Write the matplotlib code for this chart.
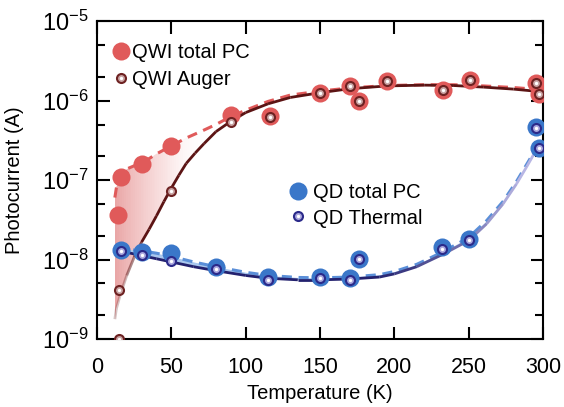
import numpy as np
import matplotlib
matplotlib.use('Agg')
import matplotlib.pyplot as plt
from matplotlib.collections import LineCollection
from matplotlib.colors import LinearSegmentedColormap, to_rgb
from matplotlib.path import Path
from matplotlib.ticker import FixedLocator, LogFormatterSciNotation, NullFormatter, NullLocator

plt.rcParams['font.family'] = ['Liberation Sans', 'DejaVu Sans']
plt.rcParams['axes.unicode_minus'] = False

# Measured points
qwi_total_T = [14, 16, 30, 50, 90, 116, 150, 170, 176, 195, 233, 251, 295, 297]
qwi_total = [3.6e-8, 1.1e-7, 1.6e-7, 2.7e-7, 6.6e-7, 6.4e-7, 1.24e-6, 1.55e-6,
             1.0e-6, 1.78e-6, 1.38e-6, 1.8e-6, 1.67e-6, 1.22e-6]
qwi_auger_T = [15, 15, 50, 90, 116, 150, 170, 176, 195, 233, 251, 295, 297]
qwi_auger = [1.0e-9, 4.2e-9, 7.3e-8, 5.4e-7, 6.3e-7, 1.24e-6, 1.55e-6, 1.0e-6,
             1.78e-6, 1.38e-6, 1.8e-6, 1.67e-6, 1.22e-6]

qd_T = [16, 30, 50, 80, 115, 150, 170, 176, 232, 250, 295, 297]
qd_total = [1.33e-8, 1.25e-8, 1.2e-8, 8.0e-9, 6.0e-9, 6.0e-9, 5.8e-9, 1.03e-8,
            1.42e-8, 1.82e-8, 4.6e-7, 2.5e-7]
qd_thermal = [1.3e-8, 1.15e-8, 9.5e-9, 7.5e-9, 5.6e-9, 5.8e-9, 5.6e-9, 1.03e-8,
              1.35e-8, 1.78e-8, 4.5e-7, 2.5e-7]

# Fit curves (log10 of current)
qwi_fit_T = [12, 13, 16, 20, 25, 30, 35, 40, 45, 50, 55, 60, 66, 72, 80, 90, 100,
             115, 130, 150, 170, 195, 220, 240, 260, 280, 297]
qwi_fit_auger = [-8.75, -8.62, -8.42, -8.20, -7.97, -7.78, -7.62, -7.45, -7.27, -7.10,
                 -6.94, -6.79, -6.66, -6.54, -6.39, -6.26, -6.15, -6.04, -5.96, -5.90,
                 -5.85, -5.815, -5.805, -5.81, -5.83, -5.855, -5.885]
qwi_fit_total = [-7.22, -7.10, -6.93, -6.86, -6.82, -6.78, -6.73, -6.67, -6.62, -6.57,
                 -6.52, -6.47, -6.42, -6.37, -6.30, -6.20, -6.12, -6.01, -5.93, -5.88,
                 -5.84, -5.81, -5.80, -5.80, -5.815, -5.835, -5.86]

qd_fit_T = [13, 20, 30, 40, 50, 65, 80, 100, 115, 135, 150, 170, 190, 200, 215, 233,
            250, 262, 273, 282, 289, 296]
qd_fit_thermal = [-7.88, -7.91, -7.95, -7.99, -8.03, -8.09, -8.14, -8.20, -8.235, -8.255,
                  -8.255, -8.245, -8.22, -8.18, -8.09, -7.93, -7.76, -7.55, -7.30, -7.05,
                  -6.83, -6.60]
qd_fit_total = [-7.86, -7.87, -7.89, -7.92, -7.96, -8.03, -8.09, -8.16, -8.20, -8.225,
                -8.23, -8.22, -8.19, -8.15, -8.06, -7.90, -7.72, -7.51, -7.27, -7.02,
                -6.80, -6.58]

y_major = [1e-9, 1e-8, 1e-7, 1e-6, 1e-5]
y_minor = [m * 10.0 ** e for e in range(-9, -5) for m in (2, 5)]

red = '#e05a5a'
maroon = '#5c1414'
blue = '#3a77c9'
navy = '#23216e'
lavender = '#b8b6e4'

fig = plt.figure(figsize=(5.64, 4.07), dpi=100)
ax = fig.add_axes([0.172, 0.167, 0.791, 0.781])
ax.set_yscale('log')
ax.set_xlim(0, 300)
ax.set_ylim(1e-9, 1e-5)

qT = np.array(qwi_fit_T, float)
q_aug = 10 ** np.array(qwi_fit_auger)
q_tot = 10 ** np.array(qwi_fit_total)
dT = np.array(qd_fit_T, float)
d_th = 10 ** np.array(qd_fit_thermal)
d_tot = 10 ** np.array(qd_fit_total)

# shaded gap between QWI total and Auger fits, fading to the right
verts = list(zip(qT, q_aug)) + list(zip(qT[::-1], q_tot[::-1]))
clip = Path(verts + [verts[0]], closed=True)
shade_cmap = LinearSegmentedColormap.from_list(
    'shade', [(0.86, 0.42, 0.42, 0.6), (0.93, 0.66, 0.66, 0.35), (1, 1, 1, 0)])
gx = np.linspace(12, 110, 80)
mesh = ax.pcolormesh(gx, [1e-9, 1e-5], gx[None, :-1], cmap=shade_cmap,
                     vmin=12, vmax=75, shading='flat', zorder=1)
mesh.set_clip_path(clip, ax.transData)

# thin band between QD fits
ax.fill_between(dT, d_th, d_tot, color='#aac8ee', lw=0, zorder=2)

# QWI fits
ax.plot(qT, q_tot, color=red, lw=2.2, dashes=(3.3, 2.2), zorder=3)
seg = np.stack([np.column_stack([qT[:-1], q_aug[:-1]]),
                np.column_stack([qT[1:], q_aug[1:]])], axis=1)
alphas = np.clip((qT[:-1] - 10) / 20, 0.25, 1)
cols = [(*to_rgb(maroon), a) for a in alphas]
ax.add_collection(LineCollection(seg, colors=cols, lw=2, zorder=3))

# QD fits
ax.plot(dT, d_tot, color='#5b8fd8', lw=2.2, dashes=(3.3, 2.2), zorder=4)
seg = np.stack([np.column_stack([dT[:-1], d_th[:-1]]),
                np.column_stack([dT[1:], d_th[1:]])], axis=1)
f = np.clip((dT[:-1] - 185) / 95, 0, 1)[:, None]
cols = (1 - f) * np.array(to_rgb(navy)) + f * np.array(to_rgb(lavender))
ax.add_collection(LineCollection(seg, colors=cols, lw=2, zorder=4))


def ball(x, y, outer, mid, ms=8.0, z=7):
    a, = ax.plot(x, y, 'o', ls='none', ms=ms, mfc=outer, mec='none', zorder=z)
    b, = ax.plot(x, y, 'o', ls='none', ms=ms * 0.62, mfc=mid, mec='none', zorder=z)
    c, = ax.plot(x, y, 'o', ls='none', ms=ms * 0.3, mfc='white', mec='none', zorder=z)
    return (a, b, c)


h_qwi_tot, = ax.plot(qwi_total_T, qwi_total, 'o', ls='none', ms=13, mfc=red, mec='none', zorder=5)
h_qwi_aug = ball(qwi_auger_T, qwi_auger, '#6e2222', '#c9a4a4')
h_qd_tot, = ax.plot(qd_T, qd_total, 'o', ls='none', ms=13, mfc=blue, mec='none', zorder=5)
h_qd_th = ball(qd_T, qd_thermal, '#2b2a8a', '#aaa7de')

ax.set_xticks([0, 50, 100, 150, 200, 250, 300])
ax.xaxis.set_minor_locator(NullLocator())
ax.yaxis.set_major_locator(FixedLocator(y_major))
ax.yaxis.set_major_formatter(LogFormatterSciNotation())
ax.yaxis.set_minor_locator(FixedLocator(y_minor))
ax.yaxis.set_minor_formatter(NullFormatter())
ax.tick_params(which='both', direction='in', top=True, right=True, width=1.5)
ax.tick_params(which='major', length=9)
ax.tick_params(which='minor', length=5.5, labelleft=False, labelbottom=False)
ax.tick_params(axis='x', pad=13, labelsize=15.5)
ax.tick_params(axis='y', pad=6, labelsize=17)
for s in ax.spines.values():
    s.set_linewidth(1.5)

ax.set_xlabel('Temperature (K)', fontsize=14.5, labelpad=4)
ax.set_ylabel('Photocurrent (A)', fontsize=14.5, labelpad=13)

leg1 = ax.legend([h_qwi_tot, h_qwi_aug], ['QWI total PC', 'QWI Auger'],
                 loc='upper left', bbox_to_anchor=(0.034, 0.930), frameon=False,
                 fontsize=14.5, handlelength=0.9, handletextpad=0.1, labelspacing=0.36,
                 borderpad=0, borderaxespad=0)
ax.add_artist(leg1)
ax.legend([h_qd_tot, h_qd_th], ['QD total PC', 'QD Thermal'],
          loc='upper left', bbox_to_anchor=(0.431, 0.490), frameon=False,
          fontsize=14.5, handlelength=0.9, handletextpad=0.3, labelspacing=0.31,
          borderpad=0, borderaxespad=0)

fig.savefig('out.png', dpi=100)
